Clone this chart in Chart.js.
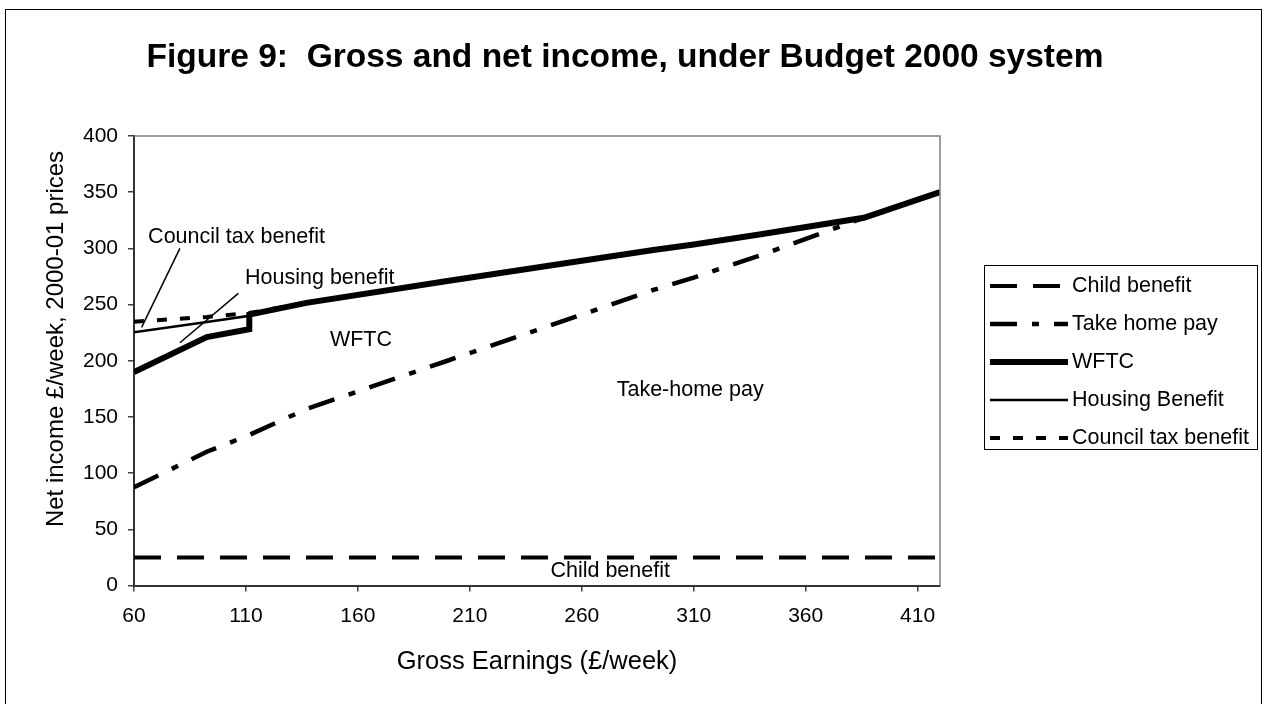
<!DOCTYPE html>
<html>
<head>
<meta charset="utf-8">
<title>Figure 9: Gross and net income, under Budget 2000 system</title>
<script src="https://cdn.jsdelivr.net/npm/chart.js@4.4.1/dist/chart.umd.min.js"></script>
<style>
  html, body { margin: 0; padding: 0; background: #fff; }
  #grafico { display: block; }
</style>
</head>
<body>
<canvas id="grafico" width="1266" height="704"></canvas>
<script>
// gross earnings (x) and the cumulative net income of each layer (y)
const earnings = [60, 92.5, 111.5, 111.5, 137, 200, 260, 292, 310, 340, 386, 420];
const childBenefit = [25, 25, 25, 25, 25, 25, 25, 25, 25, 25, 25, 25];
const takeHomePay = [87.4, 119, 134, 134, 157, 200, 241, 263, 274, 294, 327.2, 350];
const wftc = [190, 221, 228, 241, 251.5, 271, 289, 298.5, 303.5, 312.5, 327.2, 350];
const housingBenefit = [225.3, 234.5, 240, 241, 251.5, 271, 289, 298.5, 303.5, 312.5, 327.2, 350];
const councilTaxBenefit = [234.7, 239, 242.5, 242.5, 251.5, 271, 289, 298.5, 303.5, 312.5, 327.2, 350];

const xTicks = [60, 110, 160, 210, 260, 310, 360, 410];
const yTicks = [0, 50, 100, 150, 200, 250, 300, 350, 400];

const seriesNames = ["Child benefit", "Take home pay", "WFTC", "Housing Benefit", "Council tax benefit"];

// labels written inside the plot, in data units [x, y]
const notes = [
  { text: "Council tax benefit", at: [66.3, 310.3] },
  { text: "Housing benefit", at: [109.6, 273.3] },
  { text: "WFTC", at: [147.5, 218.3] },
  { text: "Take-home pay", at: [275.6, 174] },
  { text: "Child benefit", at: [246, 13] }
];
const leaders = [
  [[80.5, 300], [63.4, 229.7]],
  [[106.6, 260], [80.5, 216]]
];

const FONT = '"Liberation Sans", Arial, sans-serif';
const canvas = document.getElementById("grafico");

function points(ys) {
  return earnings.map((x, i) => ({ x: x, y: ys[i] }));
}

function lineSet(label, ys, width, dash) {
  return {
    label: label,
    data: points(ys),
    borderColor: "#000",
    borderWidth: width,
    borderDash: dash,
    pointRadius: 0,
    fill: false,
    tension: 0
  };
}

const framePlugin = {
  id: "frame",
  beforeDraw(chart) {
    const c = chart.ctx;
    c.save();
    c.fillStyle = "#fff";
    c.fillRect(0, 0, chart.width, chart.height);
    c.strokeStyle = "#000";
    c.lineWidth = 1;
    c.strokeRect(5.5, 9.5, 1256, 720);
    c.restore();
  },
  afterDraw(chart) {
    const c = chart.ctx;
    const a = chart.chartArea;
    const sx = chart.scales.x;
    const sy = chart.scales.y;
    c.save();

    // plot area top and right edges
    c.strokeStyle = "#808080";
    c.lineWidth = 1.5;
    c.beginPath();
    c.moveTo(a.left, a.top);
    c.lineTo(a.right, a.top);
    c.lineTo(a.right, a.bottom);
    c.stroke();

    // title
    c.fillStyle = "#000";
    c.textBaseline = "middle";
    c.textAlign = "center";
    c.font = "bold 33.5px " + FONT;
    c.fillText("Figure 9:  Gross and net income, under Budget 2000 system", 625, 58);

    // y axis title
    c.save();
    c.translate(56, 339);
    c.rotate(-Math.PI / 2);
    c.font = "24px " + FONT;
    c.fillText("Net income \u00a3/week, 2000-01 prices", 0, 0);
    c.restore();

    // notes in the plot
    c.textAlign = "left";
    c.font = "21.5px " + FONT;
    notes.forEach(n => {
      c.fillText(n.text, sx.getPixelForValue(n.at[0]), sy.getPixelForValue(n.at[1]));
    });
    c.lineWidth = 1.5;
    c.strokeStyle = "#000";
    leaders.forEach(l => {
      c.beginPath();
      c.moveTo(sx.getPixelForValue(l[0][0]), sy.getPixelForValue(l[0][1]));
      c.lineTo(sx.getPixelForValue(l[1][0]), sy.getPixelForValue(l[1][1]));
      c.stroke();
    });

    // legend box
    c.lineWidth = 1;
    c.strokeStyle = "#000";
    c.strokeRect(984.5, 265.5, 273, 184);
    c.font = "21.5px " + FONT;
    chart.data.datasets.forEach((ds, i) => {
      const y = 286 + i * 38;
      c.beginPath();
      c.setLineDash(ds.borderDash || []);
      c.lineWidth = ds.borderWidth;
      c.moveTo(990, y);
      c.lineTo(1068, y);
      c.stroke();
      c.setLineDash([]);
      c.fillText(ds.label, 1072, y);
    });
    c.restore();
  }
};

new Chart(canvas, {
  type: "line",
  data: {
    datasets: [
      lineSet(seriesNames[0], childBenefit, 4, [27, 16]),
      lineSet(seriesNames[1], takeHomePay, 4.5, [27, 15, 7, 15]),
      lineSet(seriesNames[2], wftc, 6, []),
      lineSet(seriesNames[3], housingBenefit, 2.5, []),
      lineSet(seriesNames[4], councilTaxBenefit, 4, [10, 13])
    ]
  },
  options: {
    responsive: false,
    animation: false,
    devicePixelRatio: 1,
    layout: { padding: { top: 136, right: 326, left: 0, bottom: 0 } },
    plugins: {
      legend: { display: false },
      tooltip: { enabled: false },
      title: { display: false }
    },
    scales: {
      x: {
        type: "linear",
        min: 60,
        max: 420,
        afterBuildTicks: s => { s.ticks = xTicks.map(v => ({ value: v })); },
        afterFit: s => { s.height = 118.5; },
        grid: { drawOnChartArea: false, tickLength: 6, color: "#404040", lineWidth: 1.5 },
        border: { color: "#333", width: 2 },
        ticks: { color: "#000", font: { family: FONT, size: 21 }, padding: 12, maxRotation: 0, autoSkip: false },
        title: {
          display: true,
          text: "Gross Earnings (\u00a3/week)",
          color: "#000",
          font: { family: FONT, size: 25.5 },
          padding: { top: 0, bottom: 27 }
        }
      },
      y: {
        min: 0,
        max: 400,
        afterBuildTicks: s => { s.ticks = yTicks.map(v => ({ value: v })); },
        afterFit: s => { s.width = 134; },
        grid: { drawOnChartArea: false, tickLength: 6, color: "#404040", lineWidth: 1.5 },
        border: { color: "#333", width: 2 },
        ticks: { color: "#000", font: { family: FONT, size: 21 }, padding: 10 }
      }
    }
  },
  plugins: [framePlugin]
});
</script>
</body>
</html>
